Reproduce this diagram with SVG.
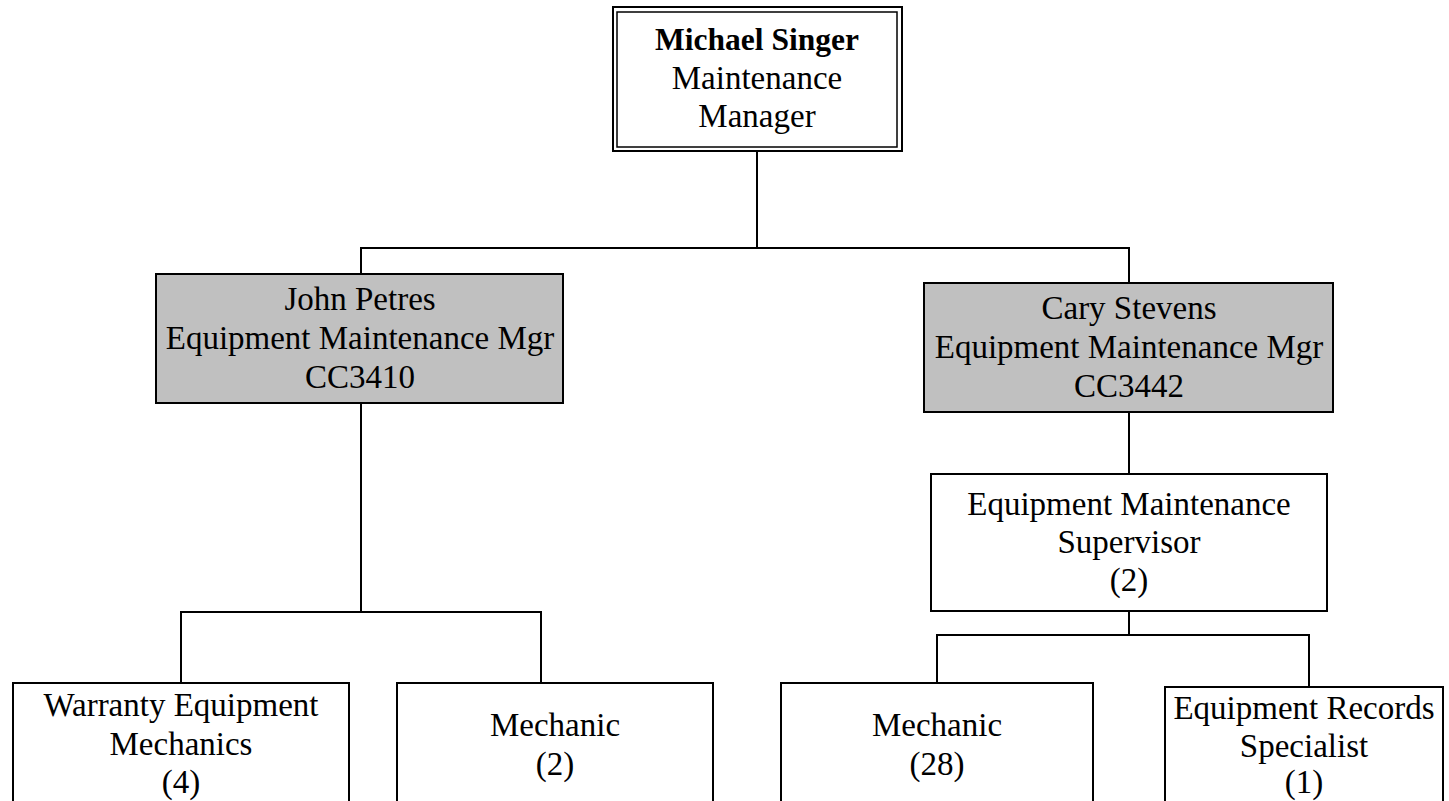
<svg xmlns="http://www.w3.org/2000/svg" width="1449" height="801" viewBox="0 0 1449 801">
<style>
  .box { fill: #ffffff; stroke: #000000; stroke-width: 2; }
  .grey { fill: #c0c0c0; stroke: #000000; stroke-width: 2; }
  .inner { fill: none; stroke: #000000; stroke-width: 1.5; }
  .t { font-family: "Liberation Serif", "Times New Roman", serif; font-size: 33px; fill: #000000; text-anchor: middle; }
  .b { font-weight: bold; font-size: 31.5px; }
  .conn line { stroke: #000000; stroke-width: 2; }
</style>
<rect width="1449" height="801" fill="#ffffff"/>
<g id="connectors" class="conn">
  <line x1="757" y1="151" x2="757" y2="248"/>
  <line x1="360" y1="248" x2="1130" y2="248"/>
  <line x1="361" y1="248" x2="361" y2="274"/>
  <line x1="1129" y1="248" x2="1129" y2="283"/>
  <line x1="361" y1="403" x2="361" y2="612"/>
  <line x1="180" y1="612" x2="542" y2="612"/>
  <line x1="181" y1="612" x2="181" y2="683"/>
  <line x1="541" y1="612" x2="541" y2="683"/>
  <line x1="1129" y1="412" x2="1129" y2="474"/>
  <line x1="1129" y1="611" x2="1129" y2="635"/>
  <line x1="936" y1="635" x2="1310" y2="635"/>
  <line x1="937" y1="635" x2="937" y2="683"/>
  <line x1="1309" y1="635" x2="1309" y2="687"/>
</g>
<g id="michael-singer">
  <rect class="box" x="613" y="7" width="289" height="144"/>
  <rect class="inner" x="617" y="12" width="280" height="135"/>
  <text class="t b" x="757" y="50">Michael Singer</text>
  <text class="t" x="757" y="89">Maintenance</text>
  <text class="t" x="757" y="127">Manager</text>
</g>
<g id="john-petres">
  <rect class="grey" x="156" y="274" width="407" height="129"/>
  <text class="t" x="360" y="310">John Petres</text>
  <text class="t" x="360" y="349">Equipment Maintenance Mgr</text>
  <text class="t" x="360" y="388">CC3410</text>
</g>
<g id="cary-stevens">
  <rect class="grey" x="924" y="283" width="409" height="129"/>
  <text class="t" x="1129" y="319">Cary Stevens</text>
  <text class="t" x="1129" y="358">Equipment Maintenance Mgr</text>
  <text class="t" x="1129" y="397">CC3442</text>
</g>
<g id="supervisor">
  <rect class="box" x="931" y="474" width="396" height="137"/>
  <text class="t" x="1129" y="515">Equipment Maintenance</text>
  <text class="t" x="1129" y="553">Supervisor</text>
  <text class="t" x="1129" y="591">(2)</text>
</g>
<g id="warranty-mechanics">
  <rect class="box" x="13" y="683" width="336" height="140"/>
  <text class="t" x="181" y="716">Warranty Equipment</text>
  <text class="t" x="181" y="755">Mechanics</text>
  <text class="t" x="181" y="793">(4)</text>
</g>
<g id="mechanic-2">
  <rect class="box" x="397" y="683" width="316" height="140"/>
  <text class="t" x="555" y="736">Mechanic</text>
  <text class="t" x="555" y="775">(2)</text>
</g>
<g id="mechanic-28">
  <rect class="box" x="781" y="683" width="312" height="140"/>
  <text class="t" x="937" y="736">Mechanic</text>
  <text class="t" x="937" y="775">(28)</text>
</g>
<g id="records-specialist">
  <rect class="box" x="1165" y="687" width="278" height="140"/>
  <text class="t" x="1304" y="719">Equipment Records</text>
  <text class="t" x="1304" y="757">Specialist</text>
  <text class="t" x="1304" y="793">(1)</text>
</g>
</svg>
